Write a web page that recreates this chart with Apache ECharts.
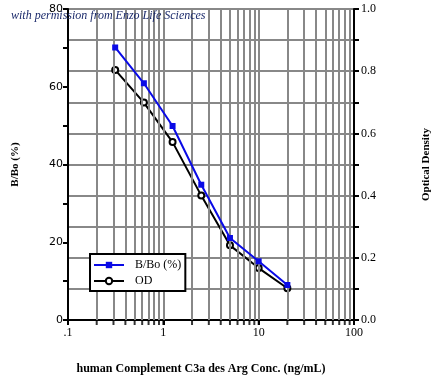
<!DOCTYPE html>
<html><head><meta charset="utf-8">
<script src="https://cdn.jsdelivr.net/npm/echarts@6/dist/echarts.min.js"></script>
<style>html,body{margin:0;padding:0;background:#fff}#c{width:434px;height:380px}</style>
</head><body><div id="c"></div>
<script>
var conc = [0.3125, 0.625, 1.25, 2.5, 5, 10, 20];
var bbo = [70.1, 60.9, 49.9, 34.8, 21.1, 15.1, 9.0];
var od = [0.804, 0.699, 0.572, 0.40, 0.240, 0.167, 0.102];
var xMinorGrid = [0.2,0.3,0.4,0.5,0.6,0.7,0.8,0.9,1,2,3,4,5,6,7,8,9,10,20,30,40,50,60,70,80,90];
var xTickLabels = {0.1: '.1', 1: '1', 10: '10', 100: '100'};
var leftLabels = [0, 20, 40, 60, 80];
var rightLabels = [0, 0.2, 0.4, 0.6, 0.8, 1.0];

var chart = echarts.init(document.getElementById('c'), null, {renderer: 'canvas'});
var serif = '"Liberation Serif", "DejaVu Serif", serif';
var axisLine = {show: true, lineStyle: {color: '#000', width: 2}};
var opt = {
  animation: false,
  backgroundColor: '#fff',
  grid: {left: 68, right: 80, top: 9, bottom: 60, show: true, borderColor: '#000', borderWidth: 2, backgroundColor: 'transparent', containLabel: false, outerBoundsMode: 'none'},
  xAxis: {
    type: 'log', min: 0.1, max: 100, logBase: 10,
    axisLine: axisLine,
    axisTick: {show: true, length: 5, lineStyle: {color: '#000', width: 2}},
    splitLine: {show: false},
    axisLabel: {fontFamily: serif, fontSize: 12, color: '#000', margin: 7,
      formatter: function (v) { var k = Math.round(Math.log10(v)); return xTickLabels[Math.pow(10, k)] || ''; }},
    name: 'human Complement C3a des Arg Conc. (ng/mL)', nameLocation: 'middle', nameGap: 43,
    nameTextStyle: {fontFamily: serif, fontWeight: 'bold', fontSize: 12, color: '#000', padding: [0, 20, 0, 0]}
  },
  yAxis: [{
    type: 'value', min: 0, max: 80, interval: 10, position: 'left',
    axisLine: axisLine,
    axisTick: {show: true, length: 5, lineStyle: {color: '#000', width: 2}},
    splitLine: {show: false},
    axisLabel: {fontFamily: '"DejaVu Sans", sans-serif', fontSize: 11, color: '#000', margin: 5,
      formatter: function (v) { return leftLabels.indexOf(v) >= 0 ? String(v) : ''; }},
    name: 'B/Bo (%)', nameLocation: 'middle', nameGap: 47, nameRotate: 90,
    nameTextStyle: {fontFamily: serif, fontWeight: 'bold', fontSize: 11, color: '#000'}
  }, {
    type: 'value', min: 0, max: 1, interval: 0.1, position: 'right',
    axisLine: axisLine,
    axisTick: {show: true, length: 5, lineStyle: {color: '#000', width: 2}},
    splitLine: {show: true, lineStyle: {color: '#888', width: 2}},
    axisLabel: {fontFamily: serif, fontSize: 12, color: '#000', margin: 7,
      formatter: function (v) {
        var r = Math.round(v * 10) / 10;
        for (var i = 0; i < rightLabels.length; i++) if (Math.abs(rightLabels[i] - r) < 1e-6) return r.toFixed(1);
        return '';
      }},
    name: 'Optical Density', nameLocation: 'middle', nameGap: 67, nameRotate: 90,
    nameTextStyle: {fontFamily: serif, fontWeight: 'bold', fontSize: 11, color: '#000'}
  }],
  legend: {
    show: true, orient: 'vertical', left: 90, top: 254, z: 20,
    itemWidth: 30, itemHeight: 8, itemGap: 4,
    padding: [5, 4, 4, 3],
    backgroundColor: '#fff', borderColor: '#000', borderWidth: 2,
    textStyle: {fontFamily: serif, fontSize: 12, color: '#000', padding: [0, 0, 0, 6]},
    data: ['B/Bo (%)', 'OD']
  },
  graphic: [{
    type: 'text', left: 11, top: 10, z: 100,
    style: {text: 'with permission from Enzo Life Sciences', font: 'italic 12px "Liberation Serif", serif', fill: '#1b2a6b'}
  }],
  series: [
    {
      name: 'grid', type: 'line', data: [], silent: true, yAxisIndex: 0, z: 1,
      markLine: {silent: true, symbol: ['none', 'none'], label: {show: false}, animation: false,
        lineStyle: {type: 'solid', color: '#888', width: 2},
        data: xMinorGrid.map(function (v) { return {xAxis: v}; })}
    },
    {
      name: 'ticks', type: 'scatter', silent: true, yAxisIndex: 0, z: 3,
      symbol: 'rect', symbolSize: [2, 4], symbolOffset: [0, 3],
      itemStyle: {color: '#000'},
      data: xMinorGrid.map(function (v) { return [v, 0]; })
    },
    {
      name: 'B/Bo (%)', type: 'line', yAxisIndex: 0, z: 5,
      data: conc.map(function (c, i) { return [c, bbo[i]]; }),
      symbol: 'rect', symbolSize: 6,
      lineStyle: {color: '#0a0ae6', width: 2}, itemStyle: {color: '#0a0ae6'}
    },
    {
      name: 'OD', type: 'line', yAxisIndex: 1, z: 4,
      data: conc.map(function (c, i) { return [c, od[i]]; }),
      symbol: 'circle', symbolSize: 6,
      lineStyle: {color: '#000', width: 2}, itemStyle: {color: '#fff', borderColor: '#000', borderWidth: 2}
    }
  ]
};
chart.setOption(opt);
</script></body></html>
